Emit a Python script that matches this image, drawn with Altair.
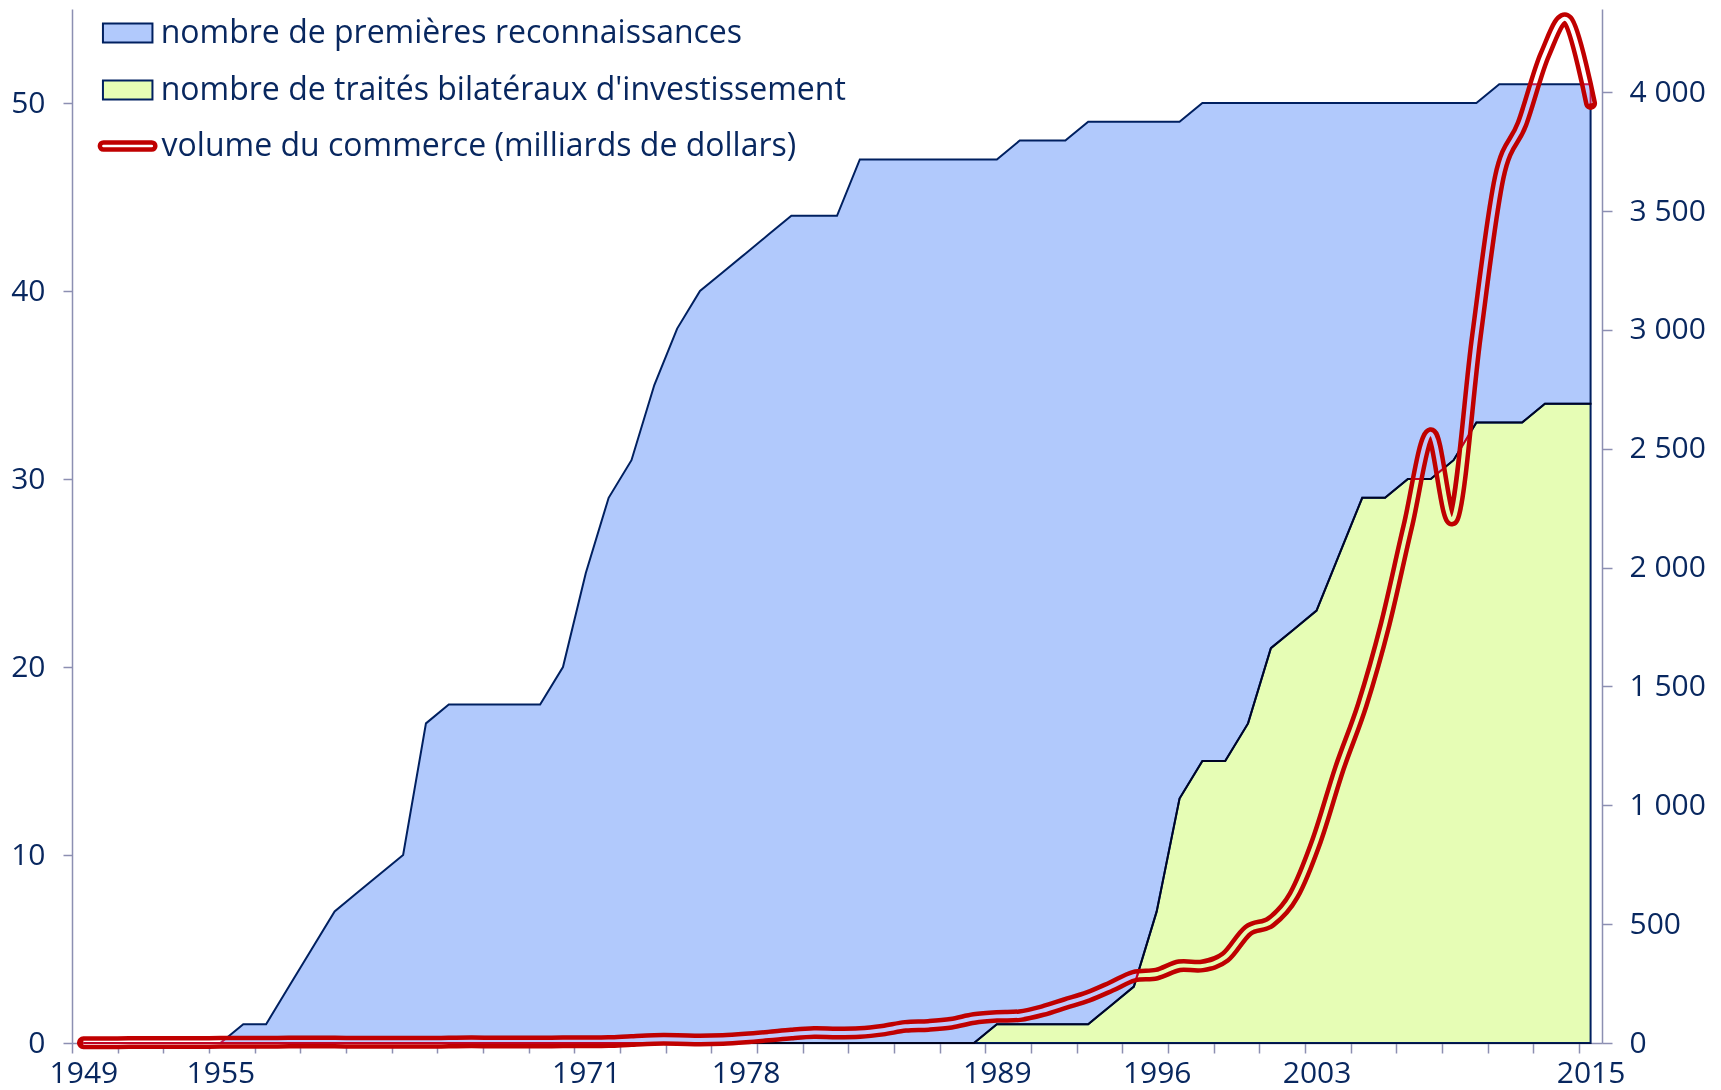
import altair as alt
import pandas as pd

# ---------------- data ----------------
years = [1949, 1950, 1951, 1952, 1953, 1954, 1955, 1956, 1957, 1958,
         1959, 1960, 1961, 1962, 1963, 1964, 1965, 1966, 1967, 1968,
         1969, 1970, 1971, 1972, 1973, 1974, 1975, 1976, 1977, 1978,
         1979, 1980, 1981, 1982, 1983, 1984, 1985, 1986, 1987, 1988,
         1989, 1990, 1991, 1992, 1993, 1994, 1995, 1996, 1997, 1998,
         1999, 2000, 2001, 2002, 2003, 2004, 2005, 2006, 2007, 2008,
         2009, 2010, 2011, 2012, 2013, 2014, 2015]

reconnaissances = [0, 0, 0, 0, 0, 0, 0, 1, 1, 3,
                   5, 7, 8, 9, 10, 17, 18, 18, 18, 18,
                   18, 20, 25, 29, 31, 35, 38, 40, 41, 42,
                   43, 44, 44, 44, 47, 47, 47, 47, 47, 47,
                   47, 48, 48, 48, 49, 49, 49, 49, 49, 50,
                   50, 50, 50, 50, 50, 50, 50, 50, 50, 50,
                   50, 50, 51, 51, 51, 51, 51]

traites = [0, 0, 0, 0, 0, 0, 0, 0, 0, 0,
           0, 0, 0, 0, 0, 0, 0, 0, 0, 0,
           0, 0, 0, 0, 0, 0, 0, 0, 0, 0,
           0, 0, 0, 0, 0, 0, 0, 0, 0, 0,
           1, 1, 1, 1, 1, 2, 3, 7, 13, 15,
           15, 17, 21, 22, 23, 26, 29, 29, 30, 30,
           31, 33, 33, 33, 34, 34, 34]

commerce = [1, 1, 2, 2, 2, 2, 3, 3, 3, 4,
            4, 4, 3, 3, 3, 3, 4, 5, 4, 4,
            4, 5, 5, 6, 11, 15, 15, 13, 15, 21,
            29, 38, 44, 42, 44, 54, 70, 74, 83, 103,
            112, 115, 136, 166, 196, 237, 281, 290, 325, 324,
            361, 474, 510, 621, 851, 1155, 1422, 1760, 2176, 2563,
            2208, 2974, 3642, 3867, 4159, 4302, 3953]

tick_marks = [1948.5, 1950.5, 1952.5, 1954.5, 1956.5, 1958.5, 1960.5, 1962.5,
              1964.5, 1966.5, 1968.5, 1970.5, 1972.5, 1974.5, 1976.5, 1978.5,
              1980.5, 1982.5, 1984.5, 1986.5, 1988.5, 1990.5, 1992.5, 1994.5,
              1996.5, 1998.5, 2000.5, 2002.5, 2004.5, 2006.5, 2008.5, 2010.5,
              2012.5, 2014.5]
label_years = [1949, 1955, 1971, 1978, 1989, 1996, 2003, 2015]
left_ticks = [0, 10, 20, 30, 40, 50]
right_ticks = [0, 500, 1000, 1500, 2000, 2500, 3000, 3500, 4000]

LBL_RECO = "nombre de premières reconnaissances"
LBL_BIT = "nombre de traités bilatéraux d'investissement"
LBL_TRADE = "volume du commerce (milliards de dollars)"

df = pd.DataFrame({"annee": years, "reco": reconnaissances,
                   "bit": traites, "commerce": commerce})
df["serie_reco"] = LBL_RECO
df["serie_bit"] = LBL_BIT
df["serie_trade"] = LBL_TRADE

# ---------------- styles ----------------
FONT = "Open Sans"
NAVY = "#002060"
TEXT = "#08275f"
AXIS = "#8c8fb2"
BLUE = "#b1c9fc"
GREEN = "#e6fdb5"
RED = "#c00000"
AX_FS = 30
LG_FS = 32

x_scale = alt.Scale(domain=[1948.5, 2015.5], nice=False, zero=False)
left_scale = alt.Scale(domain=[0, 55], nice=False)
right_scale = alt.Scale(domain=[0, 4350], nice=False)

ticks_axis = alt.Axis(orient="bottom", values=tick_marks, labels=False,
                      tickSize=10, tickColor=AXIS, tickWidth=1.5,
                      domainColor=AXIS, domainWidth=1.5, grid=False, title=None)
labels_axis = alt.Axis(orient="bottom", values=label_years, ticks=False,
                       tickSize=0, domain=False, labelFont=FONT,
                       labelFontSize=AX_FS, labelColor=TEXT, labelPadding=15,
                       format="d", labelFlush=False, labelOverlap=False,
                       grid=False, title=None)
left_axis = alt.Axis(orient="left", values=left_ticks, tickSize=9,
                     tickColor=AXIS, tickWidth=1.5, domainColor=AXIS,
                     domainWidth=1.5, labelFont=FONT, labelFontSize=AX_FS,
                     labelColor=TEXT, labelPadding=18, grid=False, title=None)
right_axis = alt.Axis(orient="right", values=right_ticks, tickSize=10,
                      tickColor=AXIS, tickWidth=1.5, domainColor=AXIS,
                      domainWidth=1.5, labelFont=FONT, labelFontSize=AX_FS,
                      labelColor=TEXT, labelPadding=17, grid=False, title=None,
                      labelExpr="replace(format(datum.value, ','), ',', ' ')")

fill_scale = alt.Scale(domain=[LBL_RECO, LBL_BIT], range=[BLUE, GREEN])
fill_legend = alt.Legend(orient="none", legendX=28.7, legendY=-3, title=None,
                         symbolType="M-0.952,-0.365H0.952V0.365H-0.952Z",
                         symbolSize=2704, symbolStrokeColor=NAVY,
                         symbolStrokeWidth=2, labelFont=FONT,
                         labelFontSize=LG_FS, labelColor=TEXT, labelOffset=6,
                         labelLimit=1000, rowPadding=14, padding=0)
stroke_scale = alt.Scale(domain=[LBL_TRADE], range=[RED])
stroke_legend = alt.Legend(orient="none", legendX=23.6, legendY=105, title=None,
                           symbolType="M-0.818,-0.122H0.818A0.122,0.122,0,0,1,0.818,0.122H-0.818A0.122,0.122,0,0,1,-0.818,-0.122Z",
                           symbolSize=3481, symbolStrokeWidth=4.5,
                           symbolFillColor="white", labelFont=FONT,
                           labelFontSize=LG_FS, labelColor=TEXT, labelOffset=2,
                           labelLimit=1000, padding=0)

base = alt.Chart(df)

# 1) double line drawn first: red outer stroke + inner gap
red_line = base.mark_line(strokeWidth=13, strokeCap="round",
                          interpolate="cardinal").encode(
    x=alt.X("annee:Q", scale=x_scale, axis=labels_axis),
    y=alt.Y("commerce:Q", scale=right_scale, axis=right_axis),
    stroke=alt.Stroke("serie_trade:N", scale=stroke_scale, legend=stroke_legend),
)
gap_line = base.mark_line(strokeWidth=4, strokeCap="butt", stroke="white",
                          interpolate="cardinal").encode(
    x=alt.X("annee:Q", scale=x_scale, axis=labels_axis),
    y=alt.Y("commerce:Q", scale=right_scale, axis=right_axis),
)
lines = alt.layer(red_line, gap_line)

# 2) areas multiplied over it (the gap shows the area colour)
blue_band = base.mark_area(stroke=NAVY, strokeWidth=2, blend="multiply",
                           interpolate="linear").encode(
    x=alt.X("annee:Q", scale=x_scale, axis=ticks_axis),
    y=alt.Y("reco:Q", scale=left_scale, axis=left_axis, stack=None),
    y2=alt.Y2("bit:Q"),
    fill=alt.Fill("serie_reco:N", scale=fill_scale, legend=fill_legend),
)
green_area = base.mark_area(stroke=NAVY, strokeWidth=2, blend="multiply",
                            interpolate="linear").encode(
    x=alt.X("annee:Q", scale=x_scale, axis=ticks_axis),
    y=alt.Y("bit:Q", scale=left_scale, axis=left_axis, stack=None),
    fill=alt.Fill("serie_bit:N", scale=fill_scale, legend=fill_legend),
)
areas = alt.layer(blue_band, green_area)

# 3) red restored on top with "lighten" (the gap colours are lighter than red)
red_top = base.mark_line(strokeWidth=13, strokeCap="round", stroke=RED,
                         blend="lighten", interpolate="cardinal").encode(
    x=alt.X("annee:Q", scale=x_scale, axis=None),
    y=alt.Y("commerce:Q", scale=right_scale, axis=None),
)

chart = alt.layer(lines, areas, red_top).resolve_scale(
    y="independent"
).resolve_axis(
    x="independent"
).properties(
    width=1530, height=1034,
    padding={"left": 64, "top": 1, "right": 111, "bottom": 50},
    autosize=alt.AutoSizeParams(type="none"),
    background="white",
).configure_view(stroke=None)

chart.save("out.html", embed_options={"renderer": "svg", "actions": False})
